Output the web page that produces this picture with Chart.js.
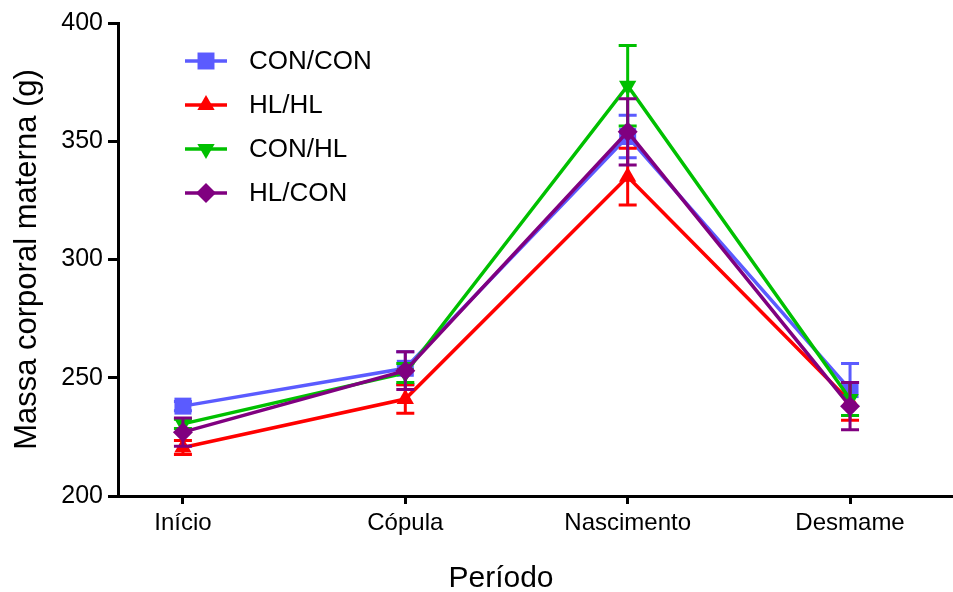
<!DOCTYPE html>
<html>
<head>
<meta charset="utf-8">
<script src="https://cdn.jsdelivr.net/npm/chart.js@4.4.0/dist/chart.umd.min.js"></script>
<style>
  html, body { margin: 0; padding: 0; background: #fff; }
  #wrap { width: 953px; height: 592px; }
</style>
</head>
<body>
<div id="wrap"><canvas id="myChart"></canvas></div>
<script>
// categories and values
var periods = ['Início', 'Cópula', 'Nascimento', 'Desmame'];
var yTicks = [200, 250, 300, 350, 400];

var conCon = [238, 254, 352, 245];
var conConErr = [2, 7, 9, 11];
var hlHl = [220.5, 241, 335, 240];
var hlHlErr = [3, 6, 12, 8];
var conHl = [230.5, 252, 373.5, 241];
var conHlErr = [2, 4, 17, 7];
var hlCon = [227, 253, 354, 238];
var hlConErr = [6, 8, 14, 10];

var FONT = '"Liberation Sans", Arial, sans-serif';

function makePoints(values) {
    return values.map(function (v, i) { return {x: i, y: v}; });
}

function makeDataset(name, values, errs, color, style, radius, rotation, order) {
    return {
        label: name,
        data: makePoints(values),
        errors: errs,
        borderColor: color,
        backgroundColor: color,
        borderWidth: 3.5,
        pointStyle: style,
        pointRadius: radius,
        pointRotation: rotation,
        pointBorderWidth: 0,
        pointBackgroundColor: color,
        fill: false,
        tension: 0,
        order: order
    };
}

// error bars, drawn just under each dataset's line and markers
var errorBars = {
    id: 'errorBars',
    beforeDatasetDraw: function (chart, args) {
        var ds = chart.data.datasets[args.index];
        var meta = args.meta;
        var y = chart.scales.y;
        var ctx = chart.ctx;
        ctx.save();
        ctx.strokeStyle = ds.borderColor;
        ctx.lineWidth = 3;
        meta.data.forEach(function (pt, i) {
            var v = ds.data[i].y, e = ds.errors[i];
            var top = y.getPixelForValue(v + e);
            var bot = y.getPixelForValue(v - e);
            ctx.beginPath();
            ctx.moveTo(pt.x, top); ctx.lineTo(pt.x, bot);
            ctx.moveTo(pt.x - 9, top); ctx.lineTo(pt.x + 9, top);
            ctx.moveTo(pt.x - 9, bot); ctx.lineTo(pt.x + 9, bot);
            ctx.stroke();
        });
        ctx.restore();
    }
};

// legend with line + marker, like the original, plus the x title
var lineLegend = {
    id: 'lineLegend',
    afterDraw: function (chart) {
        var ctx = chart.ctx;
        var rowY = [61, 105, 149, 193];
        ctx.save();
        chart.data.datasets.forEach(function (ds, i) {
            var yy = rowY[i];
            ctx.strokeStyle = ds.borderColor;
            ctx.lineWidth = 3.5;
            ctx.beginPath();
            ctx.moveTo(185, yy); ctx.lineTo(227, yy);
            ctx.stroke();
            ctx.fillStyle = ds.borderColor;
            Chart.helpers.drawPoint(ctx, {
                pointStyle: ds.pointStyle,
                radius: ds.pointRadius,
                rotation: ds.pointRotation,
                borderWidth: 0
            }, 206, yy);
            ctx.fillStyle = '#000';
            ctx.font = '26px ' + FONT;
            ctx.textBaseline = 'middle';
            ctx.textAlign = 'left';
            ctx.fillText(ds.label, 249, yy + 1);
        });
        ctx.font = '30px ' + FONT;
        ctx.textAlign = 'center';
        ctx.textBaseline = 'alphabetic';
        ctx.fillText('Período', 501, 587);
        ctx.restore();
    }
};

var ctx = document.getElementById('myChart').getContext('2d');

var config = {
    type: 'line',
    data: {
        datasets: [
            makeDataset('CON/CON', conCon, conConErr, '#5b5bff', 'rect', 12, 0, 4),
            makeDataset('HL/HL', hlHl, hlHlErr, '#ff0000', 'triangle', 10, 0, 3),
            makeDataset('CON/HL', conHl, conHlErr, '#00c000', 'triangle', 10, 180, 2),
            makeDataset('HL/CON', hlCon, hlConErr, '#800080', 'rectRot', 10, 0, 1)
        ]
    },
    options: {
        responsive: true,
        maintainAspectRatio: false,
        animation: false,
        events: [],
        layout: {autoPadding: false, padding: {top: 23, right: 0, bottom: 0, left: 0}},
        plugins: {
            legend: {display: false},
            tooltip: {enabled: false}
        },
        scales: {
            x: {
                type: 'linear',
                min: -0.292,
                max: 3.463,
                afterBuildTicks: function (s) {
                    s.ticks = periods.map(function (p, i) { return {value: i}; });
                },
                afterFit: function (s) { s.height = 96; s.paddingLeft = 0; s.paddingRight = 0; },
                ticks: {
                    callback: function (v) { return periods[v]; },
                    color: '#000',
                    font: {family: FONT, size: 24},
                    padding: 5,
                    maxRotation: 0
                },
                grid: {
                    drawOnChartArea: false,
                    drawTicks: true,
                    tickLength: 8,
                    tickWidth: 3,
                    tickColor: '#000'
                },
                border: {color: '#000', width: 3},
                title: {display: false}
            },
            y: {
                min: 200,
                max: 400,
                afterBuildTicks: function (s) {
                    s.ticks = yTicks.map(function (v) { return {value: v}; });
                },
                afterFit: function (s) { s.width = 118; },
                ticks: {
                    color: '#000',
                    font: {family: FONT, size: 25},
                    padding: 5
                },
                grid: {
                    drawOnChartArea: false,
                    drawTicks: true,
                    tickLength: 10,
                    tickWidth: 3,
                    tickColor: '#000'
                },
                border: {color: '#000', width: 3},
                title: {
                    display: true,
                    text: 'Massa corporal materna (g)',
                    color: '#000',
                    font: {family: FONT, size: 31, lineHeight: 1},
                    padding: {top: 12, bottom: 0}
                }
            }
        }
    },
    plugins: [errorBars, lineLegend]
};

var myChart = new Chart(ctx, config);
</script>
</body>
</html>
